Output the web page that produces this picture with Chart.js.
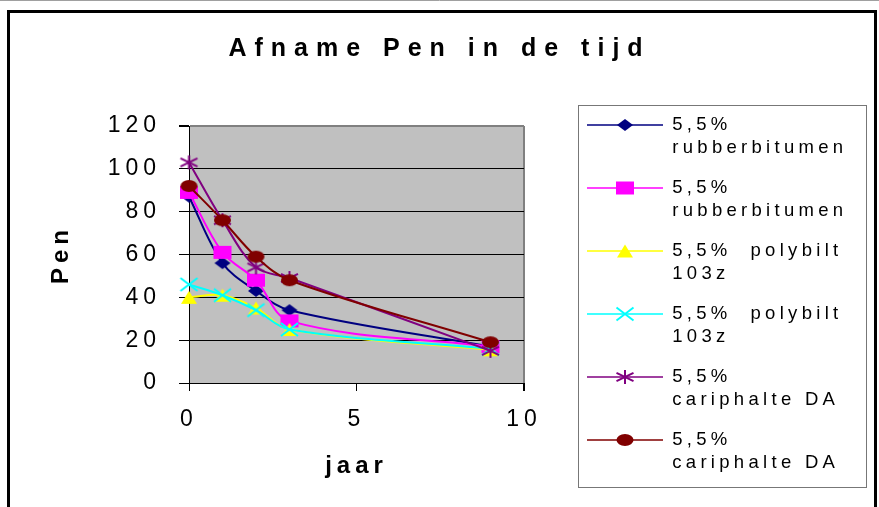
<!DOCTYPE html>
<html>
<head>
<meta charset="utf-8">
<title>Afname Pen in de tijd</title>
<script src="https://cdn.jsdelivr.net/npm/chart.js@4.4.1/dist/chart.umd.min.js"></script>
<style>
  html, body { margin: 0; padding: 0; background: #ffffff; }
  canvas { display: block; }
</style>
</head>
<body>
<canvas id="chart" width="879" height="507"></canvas>
<script>
// Measurement years (x) and Pen values per binder series
const years = [0, 1, 2, 3, 9];
const rubberbitumenA = [87, 56, 43, 34, 17];
const rubberbitumenB = [89, 61, 48, 29, 17];
const polybiltA = [40, 41, 35, 25, 15.5];
const polybiltB = [46, 41, 34, 25, 16];
const cariphalteA = [103, 76, 54, 49, 15];
const cariphalteB = [92, 76, 59, 48, 19];

// Legend labels, one entry per line
const seriesNames = [
  ['5,5%', 'rubberbitumen'],
  ['5,5%', 'rubberbitumen'],
  ['5,5%  polybilt', '103z'],
  ['5,5%  polybilt', '103z'],
  ['5,5%', 'cariphalte DA'],
  ['5,5%', 'cariphalte DA']
];

// Axis tick values
const xTicks = [0, 5, 10];
const yTicks = [0, 20, 40, 60, 80, 100, 120];

const seriesValues = [rubberbitumenA, rubberbitumenB, polybiltA, polybiltB, cariphalteA, cariphalteB];

// Marker look for each series
const markers = [
  { shape: 'diamond',  color: '#000080', w: 16, h: 12 },
  { shape: 'square',   color: '#FF00FF', w: 18, h: 13 },
  { shape: 'triangle', color: '#FFFF00', w: 16, h: 13 },
  { shape: 'cross',    color: '#00FFFF', w: 17, h: 13 },
  { shape: 'star',     color: '#800080', w: 17, h: 14 },
  { shape: 'circle',   color: '#800000', w: 17, h: 12 }
];

const FONT = "'Liberation Sans', Arial, Helvetica, sans-serif";
Chart.defaults.font.family = FONT;
Chart.defaults.color = '#000000';

function paintMarker(g, m, cx, cy) {
  const hw = m.w / 2, hh = m.h / 2;
  g.fillStyle = m.color;
  g.strokeStyle = m.color;
  g.lineWidth = 2;
  g.beginPath();
  switch (m.shape) {
    case 'diamond':
      g.moveTo(cx, cy - hh); g.lineTo(cx + hw, cy); g.lineTo(cx, cy + hh); g.lineTo(cx - hw, cy);
      g.closePath(); g.fill();
      break;
    case 'square':
      g.rect(cx - hw, cy - hh, m.w, m.h); g.fill();
      break;
    case 'triangle':
      g.moveTo(cx, cy - hh); g.lineTo(cx + hw, cy + hh); g.lineTo(cx - hw, cy + hh);
      g.closePath(); g.fill();
      break;
    case 'cross':
      g.moveTo(cx - hw, cy - hh); g.lineTo(cx + hw, cy + hh);
      g.moveTo(cx + hw, cy - hh); g.lineTo(cx - hw, cy + hh);
      g.stroke();
      break;
    case 'star':
      g.moveTo(cx - hw, cy - hh * 0.6); g.lineTo(cx + hw, cy + hh * 0.6);
      g.moveTo(cx + hw, cy - hh * 0.6); g.lineTo(cx - hw, cy + hh * 0.6);
      g.moveTo(cx, cy - hh); g.lineTo(cx, cy + hh);
      g.stroke();
      break;
    case 'circle':
      g.ellipse(cx, cy, hw, hh, 0, 0, Math.PI * 2); g.fill();
      break;
  }
}

function markerImage(m) {
  const c = document.createElement('canvas');
  c.width = m.w + 4; c.height = m.h + 4;
  paintMarker(c.getContext('2d'), m, c.width / 2, c.height / 2);
  return c;
}

// Legend symbol: short line with the marker in the middle
function legendSymbol(m) {
  const c = document.createElement('canvas');
  c.width = 76; c.height = 18;
  const g = c.getContext('2d');
  g.strokeStyle = m.color;
  g.lineWidth = 1.5;
  g.beginPath(); g.moveTo(0, 9); g.lineTo(76, 9); g.stroke();
  paintMarker(g, m, 38, 9);
  return c;
}

const markerImages = markers.map(markerImage);
const legendSymbols = markers.map(legendSymbol);

function withLetterSpacing(target, methods, px) {
  methods.forEach(name => {
    const orig = target[name];
    target[name] = function (...args) {
      const ctx = this.ctx;
      const prev = ctx.letterSpacing;
      ctx.letterSpacing = px + 'px';
      try { return orig.apply(this, args); } finally { ctx.letterSpacing = prev; }
    };
  });
}

const spacingPlugin = {
  id: 'spacedText',
  beforeLayout(chart) {
    if (chart.$spaced) return;
    chart.$spaced = true;
    withLetterSpacing(chart.titleBlock, ['draw'], 8);
    withLetterSpacing(chart.legend, ['fit', 'draw'], 4.3);
    withLetterSpacing(chart.scales.x, ['drawLabels', 'drawTitle'], 5);
    withLetterSpacing(chart.scales.y, ['drawLabels', 'drawTitle'], 5);
  }
};

const framePlugin = {
  id: 'frame',
  beforeDraw(chart) {
    const { ctx, chartArea: a } = chart;
    ctx.save();
    ctx.fillStyle = '#ffffff';
    ctx.fillRect(0, 0, chart.width, chart.height);
    ctx.fillStyle = '#C0C0C0';
    ctx.fillRect(a.left, a.top, a.right - a.left, a.bottom - a.top);
    ctx.restore();
  },
  afterLayout(chart) {
    // legend sits in its own box to the right of the plot
    const lg = chart.legend;
    const w = lg.width;
    lg.left = chart.chartArea.right + 46;
    lg.right = lg.left + w;
    lg.top = 98.7;
    lg.bottom = chart.height + 100;
    lg.height = lg.bottom - lg.top;
  },
  afterDraw(chart) {
    const { ctx } = chart;
    const boxes = chart.legend.legendHitBoxes;
    ctx.save();
    if (boxes && boxes.length) {
      const l = Math.min(...boxes.map(b => b.left)) - 9;
      const t = Math.min(...boxes.map(b => b.top)) - 11;
      const r = Math.max(...boxes.map(b => b.left + b.width)) + 19;
      const b = Math.max(...boxes.map(bx => bx.top + bx.height)) + 10;
      ctx.strokeStyle = '#777777';
      ctx.lineWidth = 1;
      ctx.strokeRect(Math.round(l) + 0.5, Math.round(t) + 0.5, Math.round(r - l), Math.round(b - t));
    }
    ctx.strokeStyle = '#a0a0a0';
    ctx.lineWidth = 1;
    ctx.beginPath(); ctx.moveTo(0, 0.5); ctx.lineTo(chart.width, 0.5); ctx.stroke();
    ctx.strokeStyle = '#000000';
    ctx.lineWidth = 3;
    ctx.strokeRect(8.5, 11.5, 867, chart.height + 20);
    ctx.restore();
  }
};

const datasets = seriesValues.map((vals, i) => ({
  label: seriesNames[i].join(' '),
  data: years.map((x, j) => ({ x: x, y: vals[j] })),
  borderColor: markers[i].color,
  backgroundColor: markers[i].color,
  borderWidth: 2,
  pointStyle: markerImages[i],
  pointRadius: 6,
  tension: 0.35,
  fill: false,
  clip: false,
  order: seriesValues.length - 1 - i
}));

new Chart(document.getElementById('chart'), {
  type: 'line',
  data: { datasets: datasets },
  plugins: [spacingPlugin, framePlugin],
  options: {
    responsive: false,
    animation: false,
    events: [],
    layout: { padding: 0 },
    plugins: {
      title: {
        display: true,
        text: 'Afname Pen in de tijd',
        color: '#000000',
        font: { family: FONT, size: 25, weight: 'bold', lineHeight: 1.2 },
        padding: { top: 34, bottom: 62 }
      },
      legend: {
        position: 'right',
        align: 'start',
        maxWidth: 400,
        labels: {
          usePointStyle: true,
          pointStyleWidth: 76,
          boxHeight: 18.5,
          padding: 17,
          color: '#000000',
          font: { family: FONT, size: 18.5, lineHeight: 23 / 18.5 },
          generateLabels: chart => chart.data.datasets.map((ds, i) => ({
            text: seriesNames[i],
            pointStyle: legendSymbols[i],
            fillStyle: markers[i].color,
            strokeStyle: markers[i].color,
            fontColor: '#000000',
            lineWidth: 0,
            hidden: false,
            datasetIndex: i
          }))
        }
      },
      tooltip: { enabled: false }
    },
    scales: {
      x: {
        type: 'linear',
        min: 0,
        max: 10,
        afterBuildTicks: s => { s.ticks = xTicks.map(v => ({ value: v })); },
        afterFit: s => { s.height = 124; s.paddingRight = 355; },
        grid: {
          color: c => (c.tick && c.tick.value === 10) ? '#808080' : 'rgba(0,0,0,0)',
          lineWidth: c => (c.tick && c.tick.value === 10) ? 2 : 1,
          tickColor: '#000000',
          tickLength: 8
        },
        border: { color: '#000000', width: 1 },
        ticks: {
          color: '#000000',
          font: { family: FONT, size: 23 },
          padding: 15,
          maxRotation: 0,
          autoSkip: false
        },
        title: {
          display: true,
          text: 'jaar',
          color: '#000000',
          font: { family: FONT, size: 24, weight: 'bold', lineHeight: 1.2 },
          padding: { top: 0, bottom: 26 }
        }
      },
      y: {
        type: 'linear',
        min: 0,
        max: 120,
        afterBuildTicks: s => { s.ticks = yTicks.map(v => ({ value: v })); },
        afterFit: s => { s.width = 189; },
        grid: {
          color: c => (c.tick && c.tick.value === 120) ? '#808080' : '#000000',
          lineWidth: c => (c.tick && c.tick.value === 120) ? 2 : 1,
          tickColor: '#000000',
          tickLength: 10
        },
        border: { color: '#000000', width: 1 },
        ticks: {
          color: '#000000',
          font: { family: FONT, size: 23 },
          padding: 18
        },
        title: {
          display: true,
          text: 'Pen',
          color: '#000000',
          font: { family: FONT, size: 24, weight: 'bold', lineHeight: 1.2 },
          padding: { top: 47, bottom: 0 }
        }
      }
    }
  }
});
</script>
</body>
</html>
